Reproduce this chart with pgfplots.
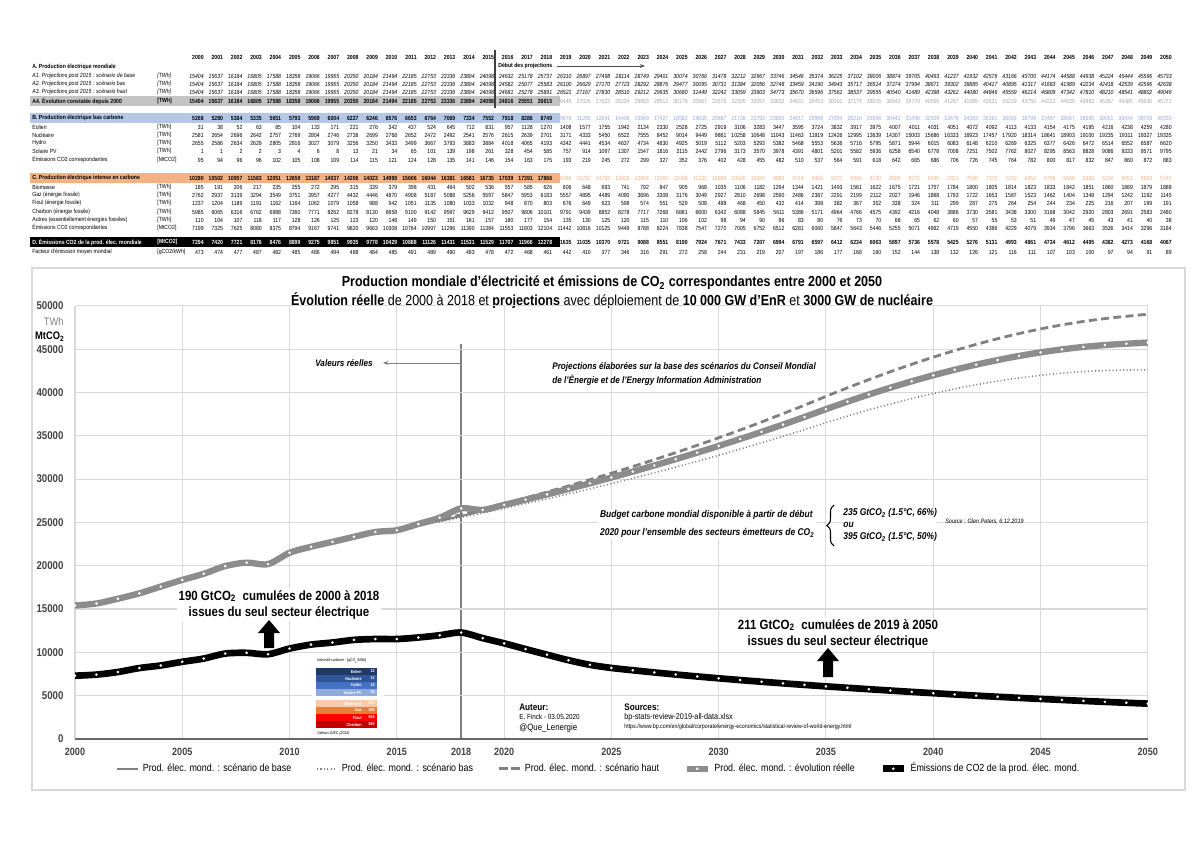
\documentclass[border=0pt]{standalone}
\usepackage{fontspec}
\setmainfont{Liberation Sans}[FakeStretch=0.86]
\usepackage{pgfplots}
\pgfplotsset{compat=1.18}
\usepackage{pgfplotstable}
\usetikzlibrary{arrows.meta,decorations.pathreplacing}

\definecolor{gridc}{HTML}{D9D9D9}
\definecolor{lgrey}{HTML}{808080}
\definecolor{rgrey}{HTML}{8C8C8C}
\definecolor{bandA}{HTML}{C4C4C4}
\definecolor{bandB}{HTML}{B4C7E7}
\definecolor{bandC}{HTML}{F4B183}
\definecolor{projA}{HTML}{A6A6A6}
\definecolor{projB}{HTML}{8FAADC}
\definecolor{projC}{HTML}{F4B183}
\definecolor{cEol}{HTML}{203864}
\definecolor{cNuc}{HTML}{2F5597}
\definecolor{cHyd}{HTML}{4472C4}
\definecolor{cSol}{HTML}{8FAADC}
\definecolor{cBio}{HTML}{F8CBAD}
\definecolor{cGaz}{HTML}{ED7D31}
\definecolor{cFio}{HTML}{FF0000}
\definecolor{cCha}{HTML}{C00000}

% production (TWh) and emissions (MtCO2), 2000-2050
\pgfplotstableread{
year base bas haut reel co2
2000 15404 15404 15404 15404 7294
2001 15637 15637 15637 15637 7420
2002 16184 16184 16184 16184 7721
2003 16805 16805 16805 16805 8176
2004 17588 17588 17588 17588 8476
2005 18358 18358 18358 18358 8899
2006 19066 19066 19066 19066 9275
2007 19955 19955 19955 19955 9851
2008 20350 20350 20350 20350 9935
2009 20184 20184 20184 20184 9778
2010 21494 21494 21494 21494 10429
2011 22185 22185 22185 22185 10888
2012 22753 22753 22753 22753 11126
2013 23336 23336 23336 23336 11431
2014 23894 23894 23894 23894 11531
2015 24098 24098 24098 24098 11529
2016 24632 24582 24681 24816 11707
2017 25178 25077 25278 25551 11966
2018 25737 25583 25891 26615 12278
2019 26310 26100 26521 26445 11635
2020 26897 26629 27167 27026 11035
2021 27498 27170 27830 27623 10370
2022 28114 27723 28510 28234 9721
2023 28749 28292 29212 28863 9088
2024 29401 28876 29935 29512 8551
2025 30074 29477 30680 30179 8190
2026 30766 30095 31449 30867 7924
2027 31478 30731 32242 31576 7671
2028 32212 31384 33059 32305 7433
2029 32967 32056 33903 33057 7207
2030 33746 32748 34773 33832 6994
2031 34546 33459 35670 34631 6791
2032 35374 34190 36596 35453 6597
2033 36225 34943 37561 36301 6412
2034 37102 35717 38537 37175 6234
2035 38006 36514 39555 38076 6063
2036 38874 37274 40540 38942 5897
2037 39705 37994 41489 39770 5736
2038 40493 38671 42398 40556 5578
2039 41237 39302 43262 41297 5425
2040 41932 39885 44080 41989 5276
2041 42576 40417 44846 42631 5131
2042 43166 40895 45559 43219 4993
2043 43700 41317 46214 43750 4861
2044 44174 41683 46809 44223 4734
2045 44588 41989 47342 44635 4612
2046 44938 42234 47810 44983 4495
2047 45224 42418 48210 45267 4382
2048 45444 42539 48541 45485 4273
2049 45596 42596 48802 45636 4168
2050 45733 42638 49046 45771 4067
}\elec

\newcommand\ts{\fontsize{3.4}{4}\selectfont}
% one table row: y, style up to 2018, style from 2019, values
\newcommand\trow[4]{%
  \foreach \v [count=\i from 0] in {#4}{%
    \ifnum\i<19 \node[tn,#2] at ({204+\i*19.36},#1) {\v};\else\node[tn,#3] at ({204+\i*19.36},#1) {\v};\fi}}
\newcommand\lab[4]{\node[tl,#2] at (32,#1) {#3};\node[tl,#2] at (157,#1) {#4};}
\newcommand\irow[4]{\fill[#2] (316,#1) rectangle (377,#1+7);
  \node[inner sep=0pt,anchor=east,text=white,font=\fontsize{2.4}{3}\selectfont\bfseries] at (362,#1+3.5) {#3};
  \node[inner sep=0pt,anchor=east,text=white,font=\fontsize{2.4}{3}\selectfont\bfseries] at (375,#1+3.5) {#4};}

\begin{document}
\begin{tikzpicture}[x=0.02cm,y=-0.02cm,
  tn/.style={font=\ts, anchor=east, inner sep=0pt},
  tl/.style={font=\ts, anchor=west, inner sep=0pt},
  b/.style={font=\ts\bfseries}, it/.style={font=\ts\itshape}]
\useasboundingbox (0,0) rectangle (1200,848);

% ---- table ----
\fill[bandA] (30,96) rectangle (560,106);
\fill[bandB] (30,113) rectangle (560,123);
\fill[bandC] (30,173) rectangle (560,183);
\fill[black] (30,237) rectangle (560,247);
\foreach \i in {0,...,50}{\pgfmathtruncatemacro\yr{2000+\i}\node[tn,b] at ({204+\i*19.36},57) {\yr};}
\draw[black!75,line width=0.6pt] (495,50) -- (495,108);
\node[tl,b] at (498,66) {Début des projections};
\draw[black!70,line width=0.5pt,-{Stealth[length=3pt]}] (557,66) -- (645,66);

\lab{67}{b}{A. Production électrique mondiale}{}
\lab{76}{it}{A1. Projections post 2015 : scénario de base}{[TWh]}
\lab{84}{it}{A2. Projections post 2015 : scénario bas}{[TWh]}
\lab{92}{it}{A3. Projections post 2015 : scénario haut}{[TWh]}
\lab{101}{b}{A4. Évolution constatée depuis 2000}{[TWh]}
\trow{76}{it}{it}{15404,15637,16184,16805,17588,18358,19066,19955,20350,20184,21494,22185,22753,23336,23894,24098,24632,25178,25737,26310,26897,27498,28114,28749,29401,30074,30766,31478,32212,32967,33746,34546,35374,36225,37102,38006,38874,39705,40493,41237,41932,42576,43166,43700,44174,44588,44938,45224,45444,45596,45733}
\trow{84}{it}{it}{15404,15637,16184,16805,17588,18358,19066,19955,20350,20184,21494,22185,22753,23336,23894,24098,24582,25077,25583,26100,26629,27170,27723,28292,28876,29477,30095,30731,31384,32056,32748,33459,34190,34943,35717,36514,37274,37994,38671,39302,39885,40417,40895,41317,41683,41989,42234,42418,42539,42596,42638}
\trow{92}{it}{it}{15404,15637,16184,16805,17588,18358,19066,19955,20350,20184,21494,22185,22753,23336,23894,24098,24681,25278,25891,26521,27167,27830,28510,29212,29935,30680,31449,32242,33059,33903,34773,35670,36596,37561,38537,39555,40540,41489,42398,43262,44080,44846,45559,46214,46809,47342,47810,48210,48541,48802,49046}
\trow{101}{b}{text=projA}{15404,15637,16184,16805,17588,18358,19066,19955,20350,20184,21494,22185,22753,23336,23894,24098,24816,25551,26615,26445,27026,27623,28234,28863,29512,30179,30867,31576,32305,33057,33832,34631,35453,36301,37175,38076,38942,39770,40556,41297,41989,42631,43219,43750,44223,44635,44983,45267,45485,45636,45771}

\lab{118}{b}{B. Production électrique bas carbone}{}
\lab{127}{}{Eolien}{[TWh]}
\lab{135}{}{Nucléaire}{[TWh]}
\lab{143}{}{Hydro}{[TWh]}
\lab{151}{}{Solaire PV}{[TWh]}
\lab{160}{}{Émissions CO2 correspondantes}{[MtCO2]}
\trow{118}{b}{text=projB}{5268,5280,5384,5335,5651,5793,5969,6004,6227,6246,6576,6653,6764,7069,7334,7552,7918,8286,8749,9679,11265,12641,14408,15969,17427,18582,19635,20687,21739,22793,23850,24917,25998,27094,28210,29346,30442,31496,32509,33475,34393,35261,36063,36799,37467,38067,38595,39051,39434,39743,40030}
\trow{127}{}{}{31,38,52,63,85,104,133,171,221,276,342,437,524,645,712,831,957,1128,1270,1408,1577,1755,1942,2134,2330,2528,2725,2919,3106,3283,3447,3595,3724,3832,3917,3975,4007,4011,4031,4051,4072,4092,4113,4133,4154,4175,4195,4216,4238,4259,4280}
\trow{135}{}{}{2581,2654,2696,2642,2757,2769,2804,2746,2738,2699,2768,2652,2472,2492,2541,2576,2615,2639,2701,3171,4333,5450,6522,7555,8452,9014,9449,9861,10258,10648,11043,11463,11919,12426,12995,13639,14307,15003,15686,16333,16923,17457,17920,18314,18641,18903,19100,19235,19311,19327,19335}
\trow{143}{}{}{2655,2586,2634,2629,2805,2916,3027,3079,3256,3250,3433,3499,3667,3793,3883,3884,4018,4065,4193,4342,4441,4534,4637,4734,4830,4925,5019,5112,5203,5293,5382,5468,5553,5636,5716,5795,5871,5944,6015,6083,6148,6210,6269,6325,6377,6426,6472,6514,6552,6587,6620}
\trow{151}{}{}{1,1,2,2,3,4,6,8,13,21,34,65,101,139,198,261,328,454,585,757,914,1097,1307,1547,1816,2115,2442,2796,3173,3570,3978,4391,4801,5201,5582,5936,6258,6540,6778,7008,7251,7502,7762,8027,8295,8563,8828,9086,9333,9571,9795}
\trow{160}{}{}{95,94,96,96,102,105,108,109,114,115,121,124,128,135,141,146,154,163,175,193,219,245,272,299,327,352,376,402,428,455,482,510,537,564,591,618,642,665,686,706,726,745,764,782,800,817,832,847,860,872,883}

\lab{178}{b}{C. Production électrique intense en carbone}{}
\lab{187}{}{Biomasse}{[TWh]}
\lab{195}{}{Gaz (énergie fossile)}{[TWh]}
\lab{203}{}{Fioul (énergie fossile)}{[TWh]}
\lab{212}{}{Charbon (énergie fossile)}{[TWh]}
\lab{220}{}{Autres (essentiellement énergies fossiles)}{[TWh]}
\lab{228}{}{Émissions CO2 correspondantes}{[MtCO2]}
\trow{178}{b}{text=projC}{10280,10502,10957,11583,12051,12659,13187,14037,14206,14023,14999,15606,16044,16381,16581,16735,17039,17391,17866,16766,15762,14782,13826,12894,12083,11598,11232,10889,10566,10264,9983,9714,9455,9207,8966,8730,8500,8272,8046,7821,7596,7370,7150,6952,6756,6568,6388,6216,6051,5893,5742}
\trow{187}{}{}{185,191,206,217,235,255,272,295,315,339,379,398,431,464,502,536,557,585,626,606,648,693,741,792,847,905,968,1035,1106,1182,1264,1344,1421,1493,1561,1622,1675,1721,1757,1784,1800,1805,1814,1823,1833,1842,1851,1860,1869,1879,1888}
\trow{195}{}{}{2762,2937,3139,3294,3549,3751,3957,4277,4432,4446,4870,4908,5187,5088,5256,5597,5847,5953,6183,5557,4895,4489,4090,3696,3308,3176,3049,2927,2810,2698,2590,2486,2387,2291,2199,2112,2027,1946,1868,1793,1722,1653,1587,1523,1462,1404,1348,1294,1242,1192,1145}
\trow{203}{}{}{1237,1204,1189,1191,1162,1164,1062,1079,1058,988,942,1051,1135,1080,1033,1032,948,870,803,676,649,623,598,574,551,529,508,488,468,450,432,414,398,382,367,352,338,324,311,299,287,275,264,254,244,234,225,216,207,199,191}
\trow{212}{}{}{5985,6065,6316,6762,6988,7360,7771,8262,8278,8130,8658,9100,9142,9597,9629,9412,9507,9806,10101,9791,9439,8852,8278,7717,7268,6881,6600,6342,6088,5845,5611,5386,5171,4964,4766,4575,4392,4216,4048,3886,3730,3581,3438,3300,3168,3042,2920,2803,2691,2583,2480}
\trow{220}{}{}{110,104,107,118,117,128,126,125,123,120,148,149,150,151,161,157,180,177,154,135,130,125,120,115,110,106,102,98,94,90,86,83,80,76,73,70,68,65,62,60,57,55,53,51,49,47,45,43,41,40,38}
\trow{228}{}{}{7199,7325,7625,8080,8375,8794,9167,9741,9820,9663,10308,10764,10997,11296,11390,11384,11553,11803,12104,11442,10816,10125,9449,8788,8224,7838,7547,7270,7005,6752,6512,6281,6060,5847,5643,5446,5255,5071,4892,4719,4550,4386,4229,4079,3934,3796,3663,3536,3414,3296,3184}

\lab{242}{b,text=white}{D. Émissions CO2 de la prod. élec. mondiale}{[MtCO2]}
\lab{252}{}{Facteur d'émission moyen mondial}{[gCO2/kWh]}
\trow{242}{b,text=white}{b}{7294,7420,7721,8176,8476,8899,9275,9851,9935,9778,10429,10888,11126,11431,11531,11529,11707,11966,12278,11635,11035,10370,9721,9088,8551,8190,7924,7671,7433,7207,6994,6791,6597,6412,6234,6063,5897,5736,5578,5425,5276,5131,4993,4861,4734,4612,4495,4382,4273,4168,4067}
\trow{252}{}{}{473,474,477,487,482,485,486,494,488,484,485,491,489,490,483,478,472,468,461,442,410,377,346,316,291,272,258,244,231,219,207,197,186,177,168,160,152,144,138,132,126,121,116,111,107,103,100,97,94,91,89}

% ---- chart ----
\draw[gridc,line width=0.6pt] (32,268) rectangle (1185,790);
\node[font=\fontsize{8.3}{9}\selectfont\bfseries] at (612,283) {Production mondiale d'électricité et émissions de CO\textsubscript{2} correspondantes entre 2000 et 2050};
\node[font=\fontsize{8.3}{9}\selectfont] at (612,301) {\textbf{Évolution réelle} de 2000 à 2018 et \textbf{projections} avec déploiement de \textbf{10 000 GW d'EnR} et \textbf{3000 GW de nucléaire}};
\node[anchor=east,inner sep=0pt,text=lgrey,font=\fontsize{6.2}{7}\selectfont] at (64,322) {TWh};
\node[anchor=east,inner sep=0pt,font=\fontsize{6.2}{7}\selectfont\bfseries] at (65,337) {MtCO\textsubscript{2}};
\draw[lgrey,line width=0.7pt] (461,344) -- (461,739);

\begin{axis}[
  at={(1.5cm,-14.78cm)}, anchor=south west, scale only axis,
  width=21.46cm, height=8.66cm,
  xmin=2000, xmax=2050, ymin=0, ymax=50000,
  xtick={2000,2005,...,2050}, ytick={0,5000,...,50000},
  scaled y ticks=false,
  extra x ticks={2018},
  extra x tick style={grid=none, tick label style={font=\fontsize{4.6}{5}\selectfont\bfseries}},
  grid=major, grid style={gridc, line width=0.6pt},
  axis x line*=bottom, axis y line*=left,
  y axis line style={draw=none},
  x axis line style={draw=black!60, line width=0.8pt},
  major tick length=0pt,
  /pgf/number format/assume math mode=true,
  /pgf/number format/1000 sep={},
  ticklabel style={text=black!75},
  xticklabel style={font=\fontsize{6}{7}\selectfont\bfseries, yshift=-2pt},
  yticklabel style={font=\fontsize{6.4}{7}\selectfont\bfseries, xshift=-3pt},
  legend columns=5,
  legend style={at={(0.489,-0.069)}, anchor=center, draw=none, fill=none,
    font=\fontsize{5.9}{7}\selectfont, inner sep=0pt,
    /tikz/every even column/.append style={column sep=0.42cm}},
  legend image code/.code={\draw[mark repeat=2,mark phase=2,#1] plot coordinates {(0cm,0cm) (0.21cm,0cm) (0.42cm,0cm)};},
  mark size=0.7pt,
  dotmark/.style={mark=*, mark options={solid, fill=white, draw=white, line width=0.1pt}},
]
\addplot[lgrey, line width=1.1pt, smooth, no marks] table[x=year,y=base]{\elec};
\addlegendentry{Prod. élec. mond. : scénario de base}
\addplot[lgrey, line width=0.9pt, dash pattern=on 0.6pt off 1.4pt, smooth, no marks] table[x=year,y=bas]{\elec};
\addlegendentry{Prod. élec. mond. : scénario bas}
\addplot[lgrey, line width=1.6pt, dash pattern=on 4.5pt off 2.5pt, smooth, no marks] table[x=year,y=haut]{\elec};
\addlegendentry{Prod. élec. mond. : scénario haut}
\addplot[rgrey, line width=3.6pt, smooth, dotmark] table[x=year,y=reel]{\elec};
\addlegendentry{Prod. élec. mond. : évolution réelle}
\addplot[black, line width=3.8pt, smooth, dotmark] table[x=year,y=co2]{\elec};
\addlegendentry{Émissions de CO2 de la prod. élec. mond.}
\end{axis}

% ---- annotations ----
\node[anchor=east,inner sep=0pt,font=\fontsize{5.4}{6}\selectfont\bfseries\itshape] at (373,363) {Valeurs réelles};
\draw[lgrey,line width=0.5pt,-{Stealth[length=3pt]}] (461,363) -- (383,363);
\node[anchor=west,inner sep=0pt,align=left,font=\fontsize{5.4}{7.9}\selectfont\bfseries\itshape] at (552,374) {Projections élaborées sur la base des scénarios du Conseil Mondial\\de l'Énergie et de l'Energy Information Administration};

\node[anchor=west,inner sep=1pt,fill=white,align=left,font=\fontsize{5.6}{10.2}\selectfont\bfseries\itshape] at (598,524) {Budget carbone mondial disponible à partir de début\\2020 pour l'ensemble des secteurs émetteurs de CO\textsubscript{2}};
\draw[black,line width=0.6pt,decorate,decoration={brace,amplitude=4pt}] (834,546) -- (834,505);
\node[anchor=west,inner sep=0pt,fill=white,align=left,font=\fontsize{5.6}{6.8}\selectfont\bfseries\itshape] at (843,525) {235 GtCO\textsubscript{2} (1.5°C, 66\%)\\ou\\395 GtCO\textsubscript{2} (1.5°C, 50\%)};
\node[anchor=west,inner sep=0pt,font=\fontsize{3.6}{4}\selectfont\itshape] at (945,522) {Source : Glen Peters, 6.12.2019};

\node[inner sep=1pt,fill=white,align=center,font=\fontsize{7.6}{9.6}\selectfont\bfseries] at (279,605) {190 GtCO\textsubscript{2}\ \ cumulées de 2000 à 2018\\issues du seul secteur électrique};
\fill[black] (269,620) -- (280,633) -- (274,633) -- (274,648) -- (264,648) -- (264,633) -- (258,633) -- cycle;
\node[inner sep=1pt,fill=white,align=center,font=\fontsize{7.6}{9.6}\selectfont\bfseries] at (838,634) {211 GtCO\textsubscript{2}\ \ cumulées de 2019 à 2050\\issues du seul secteur électrique};
\fill[black] (828,648) -- (839,661) -- (833,661) -- (833,677) -- (823,677) -- (823,661) -- (817,661) -- cycle;

% carbon intensity inset
\fill[white] (312,654) rectangle (384,735);
\node[anchor=west,inner sep=0pt,font=\fontsize{2.3}{3}\selectfont] at (317,661) {Intensité carbone - [gCO\textsubscript{2}/kWh]};
\irow{668}{cEol}{Eolien}{12}
\irow{675}{cNuc}{Nucléaire}{12}
\irow{682}{cHyd}{Hydro}{24}
\irow{689}{cSol}{Solaire PV}{48}
\irow{700}{cBio}{Biomasse}{230}
\irow{707}{cGaz}{Gaz}{490}
\irow{714}{cFio}{Fioul}{650}
\irow{721}{cCha}{Charbon}{820}
\node[anchor=west,inner sep=0pt,font=\fontsize{2.3}{3}\selectfont\itshape] at (317,733) {Valeurs GIEC (2014)};

\node[anchor=west,inner sep=0pt,font=\fontsize{5.4}{6}\selectfont\bfseries] at (519,707) {Auteur:};
\node[anchor=west,inner sep=0pt,font=\fontsize{4.2}{5}\selectfont] at (519,717) {E. Finck - 03.05.2020};
\node[anchor=west,inner sep=0pt,font=\fontsize{5.2}{6}\selectfont] at (519,728) {@Que\_Lenergie};
\node[anchor=west,inner sep=0pt,font=\fontsize{5.4}{6}\selectfont\bfseries] at (624,707) {Sources:};
\node[anchor=west,inner sep=0pt,font=\fontsize{4.8}{5}\selectfont] at (624,717) {bp-stats-review-2019-all-data.xlsx};
\node[anchor=west,inner sep=0pt,font=\fontsize{3.5}{4}\selectfont] at (624,727) {https://www.bp.com/en/global/corporate/energy-economics/statistical-review-of-world-energy.html};
\end{tikzpicture}
\end{document}
